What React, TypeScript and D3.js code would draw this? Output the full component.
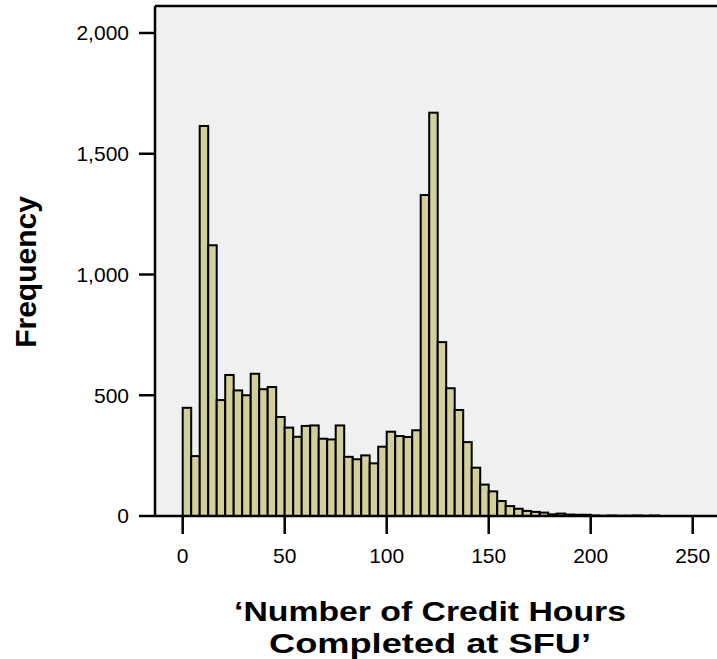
import React from "react";
import * as d3 from "d3";

const binWidth = 250 / 60;
const counts = [
  448, 248, 1615, 1121, 480, 584, 520, 500, 589, 525, 534, 410, 366, 328, 373,
  375, 320, 317, 375, 245, 235, 251, 218, 287, 349, 331, 327, 355, 1329, 1670,
  720, 529, 439, 306, 200, 130, 102, 62, 41, 30, 21, 17, 14, 7, 10, 6, 5, 5, 2,
  1, 2, 1, 1, 2, 1, 2,
];
const xTicks = [0, 50, 100, 150, 200, 250];
const yTicks = [0, 500, 1000, 1500, 2000];
const xTitle = ["\u2018Number of Credit Hours", "Completed at SFU\u2019"];
const yTitle = "Frequency";

export default function App() {
  const W = 717;
  const H = 659;
  const left = 155;
  const top = 6;
  const bottom = 516;
  const x = d3.scaleLinear().domain([0, 250]).range([182.7, 692.7]);
  const y = d3.scaleLinear().domain([0, 2000]).range([bottom, 33]);
  const fmt = d3.format(",");
  const font = "Arial, 'Liberation Sans', Helvetica, sans-serif";
  const titleLens = [392, 322];
  return (
    <svg
      width={W}
      height={H}
      style={{ position: "absolute", left: 0, top: 0, background: "#fff" }}
      fontFamily={font}
    >
      <rect x={left} y={top} width={W - left + 5} height={bottom - top} fill="#f0f0f0" />
      {counts.map((c, i) => {
        const x0 = x(i * binWidth);
        const x1 = x((i + 1) * binWidth);
        return (
          <rect
            key={i}
            x={x0}
            y={y(c)}
            width={x1 - x0}
            height={bottom - y(c)}
            fill="#d3cf9a"
            stroke="#000"
            strokeWidth={2}
          />
        );
      })}
      <line x1={left} x2={W} y1={top} y2={top} stroke="#000" strokeWidth={2.5} />
      <line x1={left} x2={left} y1={top} y2={bottom} stroke="#000" strokeWidth={2.5} />
      <line x1={left} x2={W} y1={bottom} y2={bottom} stroke="#000" strokeWidth={2.5} />
      {yTicks.map((t) => (
        <g key={t}>
          <line x1={left - 16} x2={left} y1={y(t)} y2={y(t)} stroke="#000" strokeWidth={2.5} />
          <text x={left - 26} y={y(t)} dy="0.35em" textAnchor="end" fontSize={21} fill="#000">
            {fmt(t)}
          </text>
        </g>
      ))}
      {xTicks.map((t) => (
        <g key={t}>
          <line x1={x(t)} x2={x(t)} y1={bottom} y2={bottom + 18} stroke="#000" strokeWidth={2.5} />
          <text x={x(t)} y={556} dy="0.35em" textAnchor="middle" fontSize={21} fill="#000">
            {t}
          </text>
        </g>
      ))}
      <text
        transform={`translate(25, 272) rotate(-90)`}
        textAnchor="middle"
        dy="0.35em"
        fontSize={30}
        fontWeight="bold"
        fill="#000"
      >
        {yTitle}
      </text>
      {xTitle.map((s, i) => (
        <text
          key={i}
          x={430}
          y={611 + i * 32}
          dy="0.35em"
          textAnchor="middle"
          fontSize={28}
          fontWeight="bold"
          fill="#000"
          textLength={titleLens[i]}
          lengthAdjust="spacingAndGlyphs"
        >
          {s}
        </text>
      ))}
    </svg>
  );
}
